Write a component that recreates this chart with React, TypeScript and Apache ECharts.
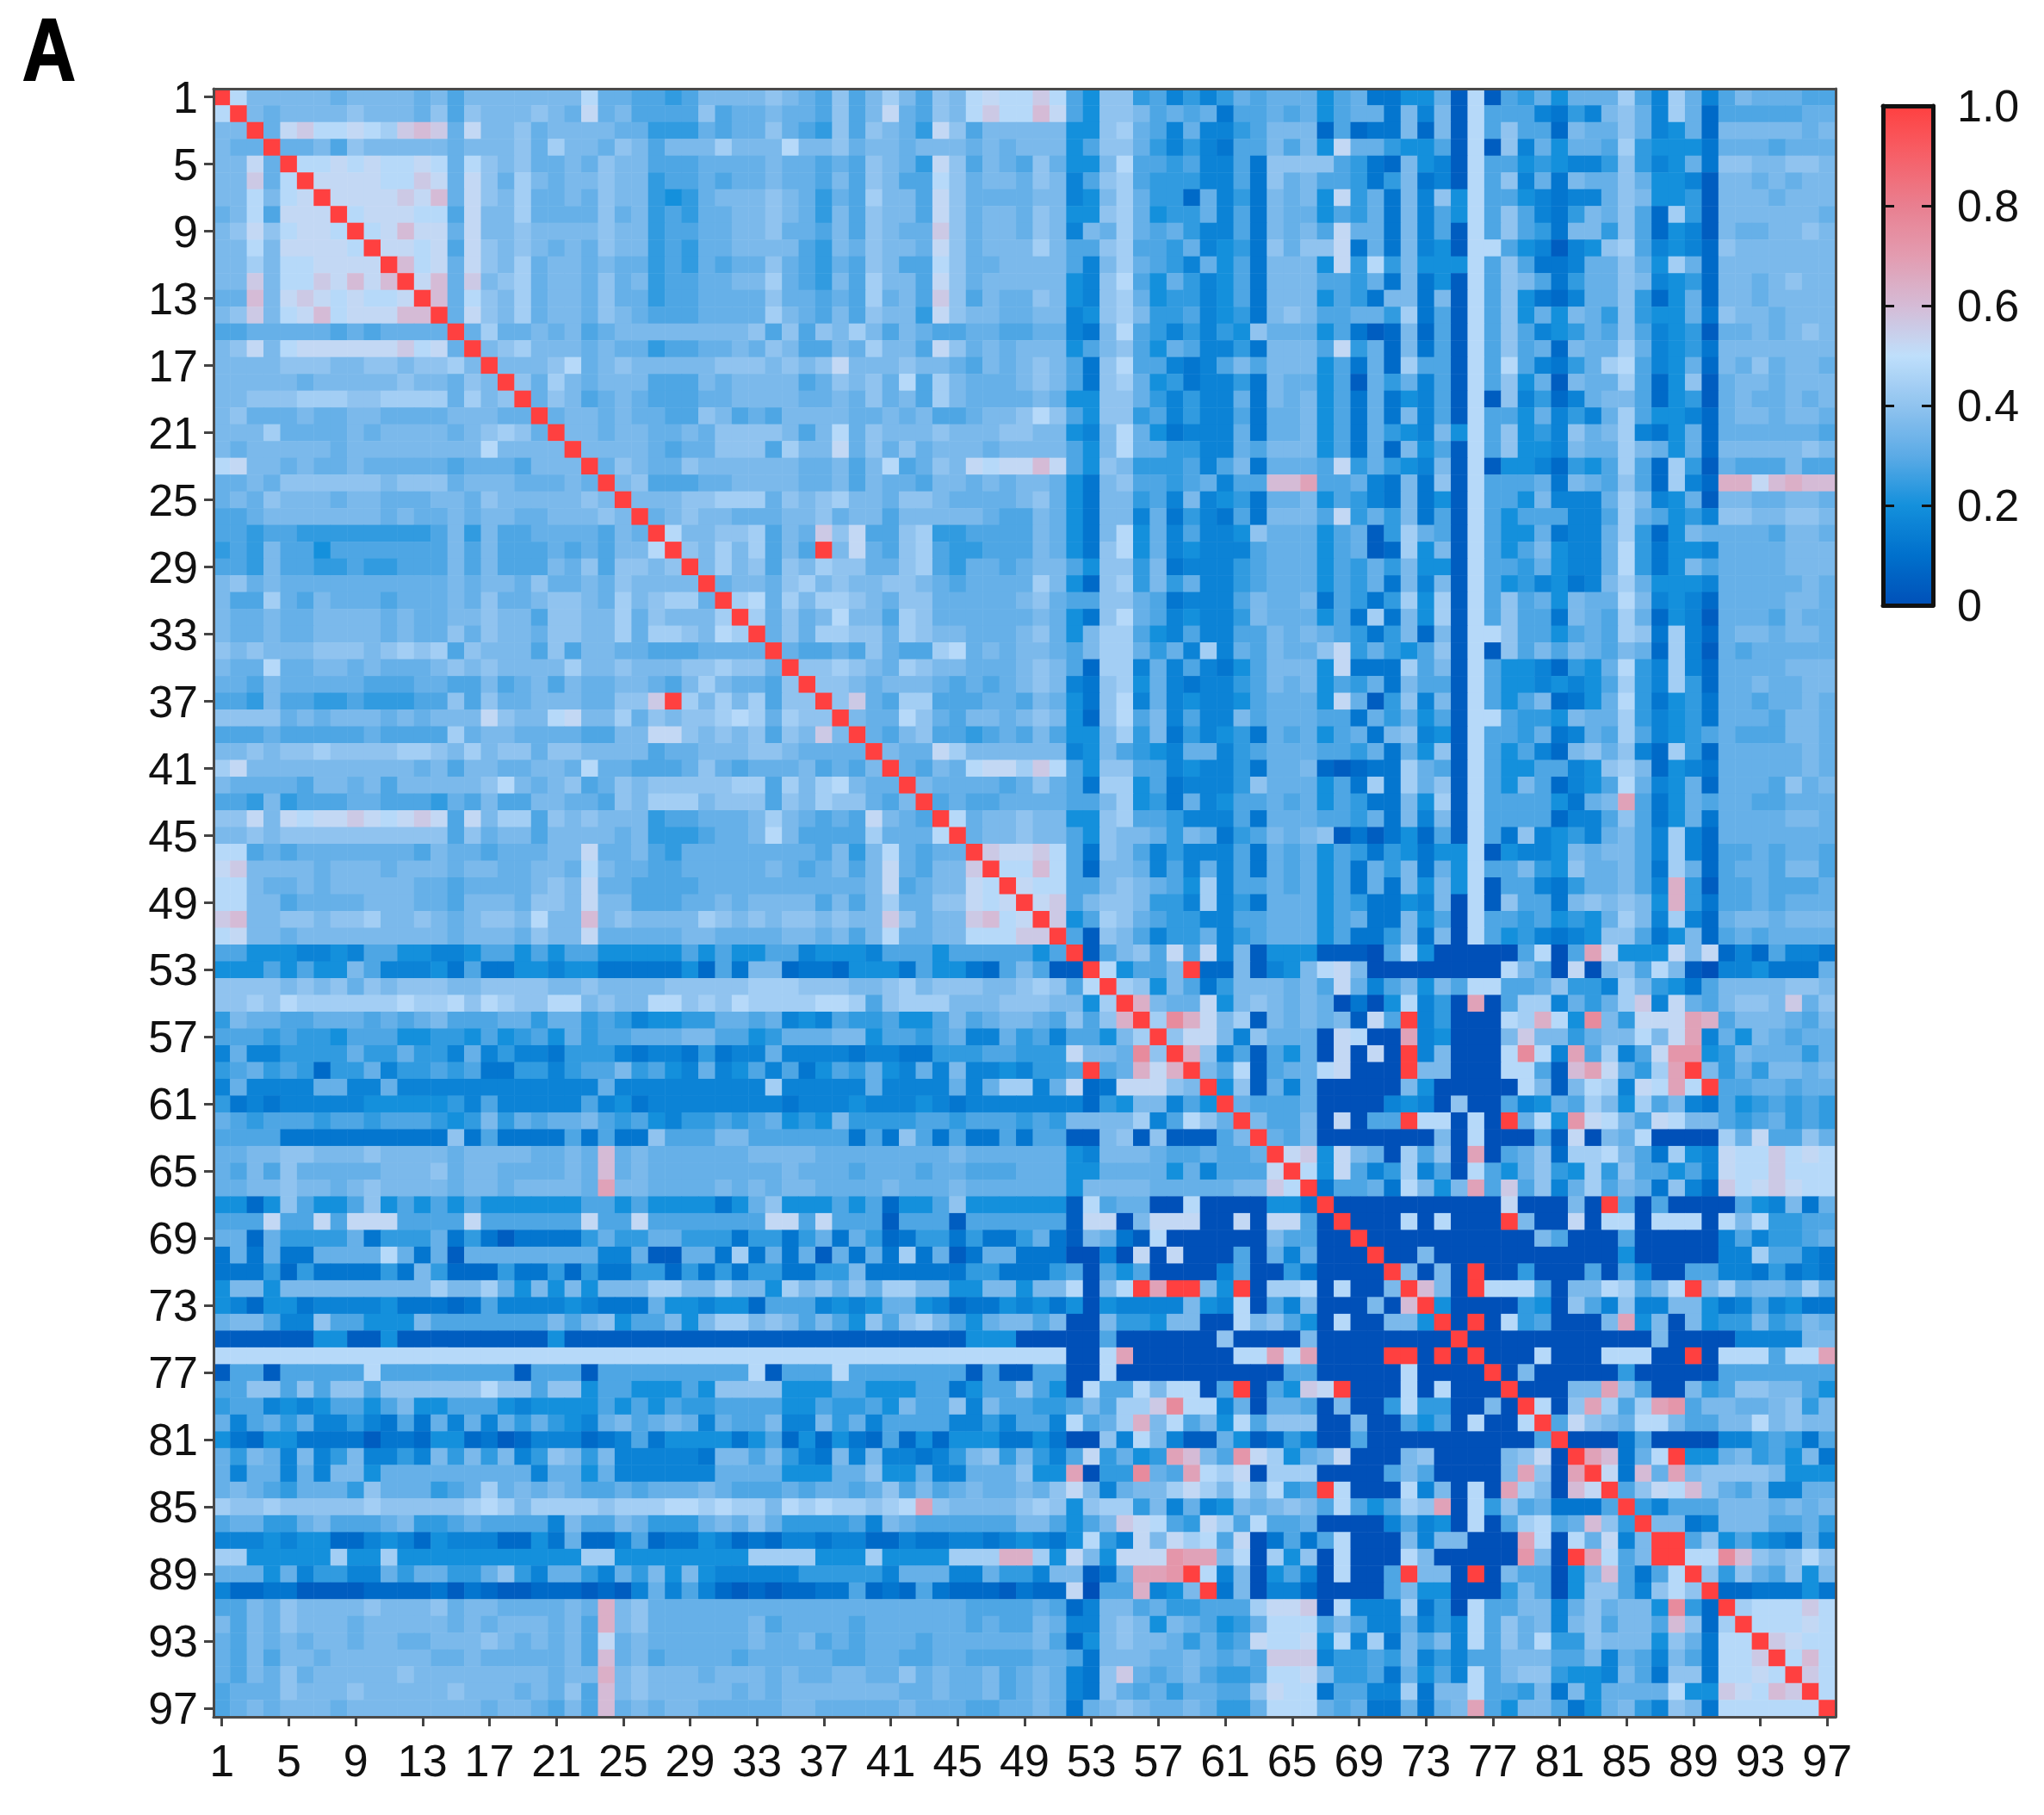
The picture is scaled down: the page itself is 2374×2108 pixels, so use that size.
import React, { useEffect, useRef } from "react";
import * as echarts from "echarts";

// Lower triangle of the symmetric correlation matrix, one row per line.
// Each letter is one cell: a = 0, b = 0.04, c = 0.08 ... z = 1.0. Spaces only group letters.
const rows: string[] = [
  "z",
  "mz",
  "jjz",
  "jiiz",
  "jjniz",
  "jjoimz",
  "jjmjmnz",
  "ijmhnnnz",
  "jknkmnnmz",
  "jjmjnnnnmz",
  "jjljmmnnnnz",
  "jjojmmonpnpz",
  "iipjnonmnmmnz",
  "jkojmnpmnnnppz",
  "hhiiiiihih iiiiz",
  "jknjmnnnnn nomniz",
  "jjjjkkkjjk kjkkljz",
  "jjjjjijjjj jkjjikjz",
  "jjkkklllkk llllilj kz",
  "jkiiijiijj iiiijjjiiz",
  "jjjliiiiji jjjjijklkiz",
  "jijjjjjijj jjjjjjmjjjjz",
  "mnjjijiiji iiiihiiihj jjz",
  "iijikkkkkk jkkkijjjii ijiz",
  "ijikjjjijj iiijjikjjj jjkjz",
  "hhijjjjjjj ijiijijjii jjjkjz",
  "hhghhggggg ggghjgjhhi iiihjiz",
  "ghgjhhfhhh hhhhjhjhhh ihihjjmz",
  "hhgjhhgghg ghhhjhjhhh jikhkkjkz",
  "jkijiiiiii iiiijijjik iijikjjjjz",
  "jhhlihjiii hiiijikiij kkjilj klli z",
  "jiijiijjjj ijiijjkjjh kkjjli kjjjl z",
  "jiijiijjjj ijiikikjji kkjjli llkjml z",
  "kjkjjjkkkj klklhkjjjh khjjii hhhiiii z",
  "jiimiijjij iiijkjkjjj jljjkj jjkklkki z",
  "iihjiiiiih hhiihhjhij hjiijj ihjljiihk z",
  "hhgjhhgghg gghhkhkiij jjiikk ozljljlhkk z",
  "kkkkijijjj ijijjjnkjj mnjjli kjkklmlilkk z",
  "hhhihhhhhi hhhhlijjii iihhjj nnkjkjkhkjoj z",
  "jjkjkklkkk kllkjljkki kkjjjj hiijjjkkjiiii z",
  "lnjjjjjjjj jjijhjjiij jimiih hhikihiiijhihj z",
  "jiiiihjjij hjjjjjkmji jkhikj kkkkkllhljlmjii z",
  "hhgjghhhii hhhgihjhhj jiihkj llljkkkhkjlkkihj z",
  "kknjnmnnon mnonhnjllh kjkjjj ghhiiijlji hihnjih z",
  "jjkjkkkkkk kkkkhkijjh jjjjij ggghiijmjh hhhliiim z",
  "mmhihiiiii iihjiihiii jjniij hgiiiiiiii hjgjmihii z",
  "nojjjjijjj ijjjijjiij jimjii hhiiiiijih ijhjnihjjo z",
  "mmjiijijjj jjiihiiiij kjniih hhhiiiiiii iiijnhijjn m z",
  "mmjjhiiiij jjiihjjjik kjnjjh hhiijijjjj hjhjliikkn mn z",
  "opjjkkjkkl jjkjijkkjm jjpjkj jjjlkjkjkk jkjjokijjo pmn z",
  "mnjjijjjjj jjjjijjjik jjniii iijjiiiijj ijhjmiijjm mmoo z",
  "hhfffeefeh hffeefhhfh fhhfff ffhfhffhhe fffehhhfhh hhhfh z",
  "fffhfhffjh eeefdhddff effddd ddfchdjjcd dcfffdhffd chjhbb z",
  "kkkkjkjkik jkkkjjkkkk jjkjjj jkkkkklllk kkjjkljkkk jjklkh m z",
  "kklkmlllll lmllmkmlkk mmjkjj mmklkmllll mmlhkllljj jkkkjj fl z",
  "gjiihhiiih ihijhhhiig iighge ffggiihief ehgghffhjh ijjihk hkq z",
  "hhhghggfhh hffggfhfgh fighhi iijjhhfgii ijjfhhghie eigheh hfjl z",
  "eieeggggig giggeiegee dggged eedgdeeiee eedeeddggg hhgggn jjitk z",
  "ghighgcggi egghghddgg eghhjg hfeiefhehd fhgifeieje efeggh zhiqnq z",
  "eieeeeiiee ieeeeeeeee eeeiee eeeeeeelee eeeieeeeie illein cdnnnkj z",
  "gdedeeeeef ffffgeheee eehefd eeeeeeeede eefeeefede eeeeee cgfjjehf z",
  "ihghhhghhg hhhgfgjgih iijhgh fegghghifg fjgggghhgh hhghgj jjjlehmki z",
  "hhhhdddddd ddddkdhddd dhdhdd khhhjjhhhh hhdhdkhdhd dhdhhb bjkbkbbbhj z",
  "iijjkkjjjk jjjjijjjji ijipij iiiiiijjjj iiiiiiiiji iiiiif ejjjihhihhi z",
  "ihjhkiiiii jjjkijjiii ijipij iiiiiiiiji iihiiihiih hhiiif fiiiifiehhhn z",
  "iijjkjjijk jjjjijjijj jjirjj iiiijijijj iiiijiiiji iiiiif jjjjiiiiijjom z",
  "ffcfkhffhk fhfhfhffff ffhhfh ffffdfikff fhfhcffhkf fffffb mhiiaamaaaaffd z",
  "hhhnhhnhnn nhhhhnhhhh hhnhhn hhhhhhhnnh nhhhbhhhbh hhhhhb nnajnnnaanannha z",
  "iiciggggid gggidgdbdd ddgigg iigggdggdg idigcdggdg ddgidb jidbmaaaaaajhhaa z",
  "dididdiiii midibiiiii iiieei bbiidldidi bididldibd iiddda aeananaaahaieiaaa z",
  "dddgcgdddd gdjgcccgdd gcgddg gcgdgdggdd ggjddddddg gdddgh ahfhaaaaehaagdaaaa z",
  "fjjfjjjjjj jjjljjlifj fjfjjj lljjljjflj kikilljjff jjfjjm ajmzrzzjfzallmamaaj z",
  "fecffdeeee fdddcdheee efeddd iffeffchhh efefiifecd dfefdf afeeeejfemahejaaajap z",
  "ijjheekhhf ffjhhhhhhh jhjkfh hjfjlljkjh jhfkhkljhf ijjhja ajggfjjaamjkhfamaajjf z",
  "bbbbbbffbb fbbbbbbbbb fbbbbb bbbbbbbbbb bbbbbbbbbf ffaaaa ahaaaaaakaaaajaaaaaaaa z",
  "mmmmmmmmmm mmmmmmmmmm mmmmmm mmmmmmmmmm mmmmmmmmmm mmmmma amraaaaaammrmraaaazzaza z",
  "bhhbhhhhhm hhhhhhhhbh hhbhhh hhhhhhmbhh hmhhhhhhhb hbbhha amaaaaaaaaaahhaaaaamaaaa z",
  "hhkkhkhkkh kkkkkkmkkh kkfhhf ffhfkkkkff fhhfffhhdf hhkhfa mhhmjmmahzahfonzaaamamaaa z",
  "ghhefefhhf hjffhhhfef fffhfh fhgghhhhff hgghfjhhke jhhggh jhllotmmeiaiihajaagmggaaja z",
  "iehigieege dhdieieigi gfeijh ijieihhjee jgiehhhhee gehhem hilqjmhjfmhkkkaajaahfhamaam z",
  "fdcffddddb ddcffcdbce eecdeh dffffdfhcf cfdchcfcff fddfda akemjebbifbcgeaahaaaaaaaaaah z",
  "igjiejegje egejgjgjeg kjgjee eeedjjhjge djejeedegj kgjgeh ngifgrpjhsnlfijnaaajkaaaajkna z",
  "ieiieiejjf iiiiiiiiie iifiee eeeeiiiiff fiikffieei iikffr aggtihrmln alllaaaahj haaaajrkar z",
  "ijihgiiigk iiighiliji jihhih iiijihhhih iihikhjhij iijikn jeijjlnljm jmghzmaaam ejamarljap n z",
  "lkklkkkkkl kkkkklmljl lllkll lmmlmlljml mllklmrkjj jjklkf kllgjeiefj ijkjhmhfhl kramgkhidd dh z",
  "hiiggijhhh ijgghihhhh ejhhji gggijikigg gghejihhhh hhjjhf hjonmhgnlh mhhiaaaaeh efamahlmhi pkg z",
  "eeefeffcce fecfeeeccf dicceh cddfecdcee deecceddee defedf mgenjnlmhn adhdhmaaaj ejjaaarmam inej z",
  "llffffflff lfffffffff ffllff ffffffllll ffflffffll lqqlfn jfnnnsrrjm alfkamaaam jaaaaasjaz rmhjz z",
  "iiifieggee igiiggikge iigeig jfjfeeeeeg ggggeiiiee iggejj bdirrszmej afheamaahz jjazajhhaf jphdhm z",
  "eccddbbbbc cccdbdcbbc ccbcbe iehecbcbcc ddhcdchdcc cbdccn ahhqefjzdj aeecaaaahj ffaaagjhaf kkhekmk z",
  "hhjikjjjjk jjjkijjiii ijiqjk iiiiiiiiii iiiiiiiiih hhhihc ejjhigghhh lnnoameeel dgamhhjjei kijjftgc z",
  "jhjikjjjij jjjjijijjj ijhqjk iiiiiijhii iihiiiiiih ihhjie ejkjfjihfg immmhjheei egemhkijej khjjhpkcl z",
  "ihjijijjij jiijjjkjij ijhnij iiiiiijiij hihiiihiii iiijhc fjkjjigigh nmmnfmeldj hjemhkimgg kjjjfkidmm z",
  "ihjhjjijjj jjjiijiiii ijhpij hiiiihiiii ihhiihhiih hhhiih djjjiijihi hoooegghgj egehhjjjhh jeihejhdmm o z",
  "ihjikijjjj jkjjjjjjjj ijjqjk jjjijjjiji ijjiikijii jhijie dkoihijhgg hmmnjgghdi fhemhjkkgf fejhdkkdmm nm z",
  "hiiikjjjkj jjjjkjjjij ikhpjk jjjjjijijj jjjjjiijii jhijie dkihigiihh knmmdhheel djjmhhgjdj fiiiimffon mpo z",
  "hijijjjijj jjjjjjijji hjhpij ijjiiiiijj iiiiijiiih hiijid ijkjiijigg immmihiddi dijrhfjjhd fijgekjdmm mmmm z",
];

const rampColors = [
  "#0050b8", "#0070cc", "#1490dc", "#5cabe6", "#90c3ef", "#bfdffb",
  "#d5bbd6", "#e39cb0", "#e97f90", "#f66068", "#ff4040",
];
const legendTicks = [0, 0.2, 0.4, 0.6, 0.8, 1];
const panelLetter = "A";

const FONT = '"Liberation Sans", Arial, sans-serif';
const cleaned = rows.map((r) => r.replace(/ /g, ""));
const labels = cleaned.map((_, i) => String(i + 1));
const cell = (r: number, c: number) =>
  (((r >= c ? cleaned[r][c] : cleaned[c][r]) || "a").charCodeAt(0) - 97) * 0.04;
const cells: [number, number, number][] = [];
labels.forEach((_, r) => labels.forEach((__, c) => cells.push([c, r, +cell(r, c).toFixed(2)])));

export default function App() {
  const ref = useRef<HTMLDivElement>(null);
  useEffect(() => {
    const chart = echarts.init(ref.current!, null, { renderer: "svg" });
    const frame = { show: true, onZero: false, lineStyle: { color: "#4a4a4a", width: 3 } };
    const legendLine = { show: true, onZero: false, lineStyle: { color: "#111", width: 5 } };
    const hidden = { show: false };
    chart.setOption({
      animation: false,
      backgroundColor: "#fff",
      grid: [
        { left: 248, right: 242, top: 103, bottom: 114 },
        { left: 2187, right: 129, top: 123, height: 580 },
      ],
      xAxis: [
        {
          type: "category", gridIndex: 0, data: labels, position: "bottom", z: 5,
          axisLine: frame,
          axisTick: { show: true, alignWithLabel: true, interval: 3, length: 11, lineStyle: { color: "#444", width: 3 } },
          axisLabel: { show: true, interval: 3, margin: 25, fontSize: 52, color: "#111", fontFamily: FONT },
          splitLine: hidden,
        },
        { type: "category", gridIndex: 0, data: labels, position: "top", z: 5, axisLine: frame, axisTick: hidden, axisLabel: hidden, splitLine: hidden },
        { type: "value", gridIndex: 1, min: 0, max: 1, position: "bottom", z: 6, axisLine: legendLine, axisTick: hidden, axisLabel: hidden, splitLine: hidden },
        { type: "value", gridIndex: 1, min: 0, max: 1, position: "top", z: 6, axisLine: legendLine, axisTick: hidden, axisLabel: hidden, splitLine: hidden },
      ],
      yAxis: [
        {
          type: "category", gridIndex: 0, data: labels, inverse: true, position: "left", z: 5,
          axisLine: frame,
          axisTick: { show: true, alignWithLabel: true, interval: 3, length: 11, lineStyle: { color: "#444", width: 3 } },
          axisLabel: { show: true, interval: 3, margin: 18, fontSize: 52, color: "#111", fontFamily: FONT },
          splitLine: hidden,
        },
        { type: "category", gridIndex: 0, data: labels, inverse: true, position: "right", z: 5, axisLine: frame, axisTick: hidden, axisLabel: hidden, splitLine: hidden },
        {
          type: "value", gridIndex: 1, min: 0, max: 1, interval: 0.2, position: "right", z: 6,
          axisLine: legendLine,
          axisTick: { show: true, inside: true, length: 13, lineStyle: { color: "#111", width: 3 } },
          axisLabel: {
            show: true, margin: 28, fontSize: 52, color: "#111", fontFamily: FONT, padding: [7, 0, 0, 0],
            formatter: (v: number) => (legendTicks.includes(+v.toFixed(1)) ? (v === 0 ? "0" : v.toFixed(1)) : ""),
          },
          splitLine: hidden,
        },
        {
          type: "value", gridIndex: 1, min: 0, max: 1, interval: 0.2, position: "left", z: 6,
          axisLine: legendLine,
          axisTick: { show: true, inside: true, length: 13, lineStyle: { color: "#111", width: 3 } },
          axisLabel: hidden, splitLine: hidden,
        },
      ],
      visualMap: {
        type: "continuous", min: 0, max: 1, seriesIndex: 0, show: true, calculable: false,
        left: 2187, top: 123, itemWidth: 58, itemHeight: 580, padding: 0, text: ["", ""],
        showLabel: false, borderWidth: 0, hoverLink: false, realtime: false,
        textStyle: { fontSize: 1, color: "transparent" },
        inRange: { color: rampColors },
      },
      graphic: [
        {
          type: "text", x: 26, y: 58, z: 10, scaleX: 0.84,
          style: { text: panelLetter, fill: "#000", font: 'bold 102px "Liberation Sans", sans-serif', textVerticalAlign: "middle", stroke: "#000", lineWidth: 2 },
        },
      ],
      series: [
        {
          type: "heatmap", xAxisIndex: 0, yAxisIndex: 0, data: cells, progressive: 0,
          label: { show: false }, emphasis: { disabled: true },
          itemStyle: { borderWidth: 0 },
        },
      ],
    });
    return () => chart.dispose();
  }, []);
  return <div ref={ref} style={{ position: "absolute", left: 0, top: 0, width: 2374, height: 2108 }} />;
}
